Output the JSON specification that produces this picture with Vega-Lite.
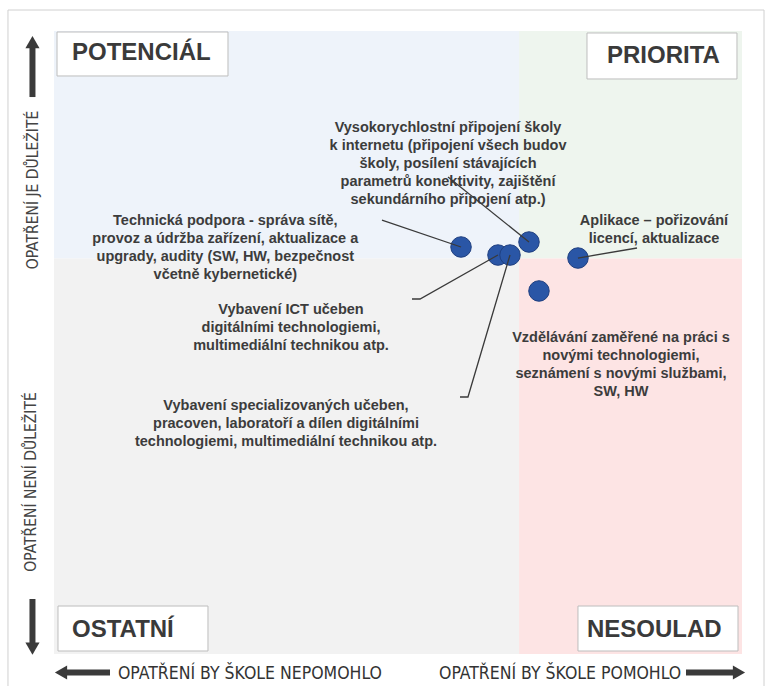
{
  "$schema": "https://vega.github.io/schema/vega-lite/v6.json",
  "width": 688,
  "height": 623,
  "padding": {"left": 54, "top": 31, "right": 36, "bottom": 32},
  "autosize": {"type": "none"},
  "background": "white",
  "config": {"view": {"stroke": null}},
  "datasets": {
    "ramec": [{"x": -6.69, "x2": 103.2, "y": 103.37, "y2": -7.38}],
    "kvadranty": [
      {"kvadrant": "POTENCIÁL", "x": 0, "x2": 67.6, "y": 63.5, "y2": 100},
      {"kvadrant": "PRIORITA", "x": 67.6, "x2": 100, "y": 63.5, "y2": 100},
      {"kvadrant": "OSTATNÍ", "x": 0, "x2": 67.6, "y": 0, "y2": 63.5},
      {"kvadrant": "NESOULAD", "x": 67.6, "x2": 100, "y": 0, "y2": 63.5}
    ],
    "stitky": [
      {"kvadrant": "POTENCIÁL", "x": 0.44, "x2": 25.29, "y": 92.78, "y2": 99.84, "tx": 2.62, "ty": 96.47},
      {"kvadrant": "PRIORITA", "x": 77.47, "x2": 99.27, "y": 92.3, "y2": 99.68, "tx": 80.38, "ty": 95.99},
      {"kvadrant": "OSTATNÍ", "x": 0.58, "x2": 22.38, "y": 0.48, "y2": 7.7, "tx": 2.62, "ty": 3.85},
      {"kvadrant": "NESOULAD", "x": 76.16, "x2": 99.42, "y": 0.48, "y2": 7.7, "tx": 77.47, "ty": 3.85}
    ],
    "body": [
      {"opatreni": "Technická podpora", "x": 59.16, "y": 65.33},
      {"opatreni": "Vybavení ICT učeben", "x": 64.53, "y": 64.04},
      {"opatreni": "Vybavení specializovaných učeben", "x": 66.28, "y": 64.04},
      {"opatreni": "Vysokorychlostní připojení", "x": 69.04, "y": 66.13},
      {"opatreni": "Aplikace", "x": 76.16, "y": 63.56},
      {"opatreni": "Vzdělávání", "x": 70.49, "y": 58.27}
    ],
    "popisky": [
      {"text": "Technická podpora - správa sítě,\nprovoz a údržba zařízení, aktualizace a\nupgrady, audity (SW, HW, bezpečnost\nvčetně kybernetické)", "x": 24.9, "y": 69.58},
      {"text": "Vysokorychlostní připojení školy\nk internetu (připojení všech budov\nškoly, posílení stávajících\nparametrů konektivity, zajištění\nsekundárního připojení atp.)", "x": 57.27, "y": 84.43},
      {"text": "Aplikace – pořizování\nlicencí, aktualizace", "x": 87.21, "y": 69.5},
      {"text": "Vybavení ICT učeben\ndigitálními technologiemi,\nmultimediální technikou atp.", "x": 34.45, "y": 55.22},
      {"text": "Vybavení specializovaných učeben,\npracoven, laboratoří a dílen digitálními\ntechnologiemi, multimediální technikou atp.", "x": 33.72, "y": 39.86},
      {"text": "Vzdělávání zaměřené na práci s\nnovými technologiemi,\nseznámení s novými službami,\nSW, HW", "x": 82.41, "y": 50.8}
    ],
    "vodici": [
      {"id": 1, "poradi": 1, "x": 47.67, "y": 69.66},
      {"id": 1, "poradi": 2, "x": 59.16, "y": 65.33},
      {"id": 2, "poradi": 1, "x": 57.27, "y": 76.56},
      {"id": 2, "poradi": 2, "x": 69.04, "y": 66.13},
      {"id": 3, "poradi": 1, "x": 84.74, "y": 65.17},
      {"id": 3, "poradi": 2, "x": 76.16, "y": 63.56},
      {"id": 4, "poradi": 1, "x": 52.03, "y": 56.98},
      {"id": 4, "poradi": 2, "x": 53.2, "y": 56.98},
      {"id": 4, "poradi": 3, "x": 64.53, "y": 64.04},
      {"id": 5, "poradi": 1, "x": 59.01, "y": 41.25},
      {"id": 5, "poradi": 2, "x": 60.17, "y": 41.25},
      {"id": 5, "poradi": 3, "x": 66.28, "y": 64.04}
    ],
    "svisle": [
      {"text": "OPATŘENÍ   JE  DŮLEŽITÉ", "x": -3.05, "y": 74.48},
      {"text": "OPATŘENÍ NENÍ DŮLEŽITÉ", "x": -3.34, "y": 27.61}
    ],
    "vodorovne": [
      {"text": "OPATŘENÍ BY ŠKOLE NEPOMOHLO", "x": 9.3, "y": -3.21},
      {"text": "OPATŘENÍ BY ŠKOLE POMOHLO", "x": 55.96, "y": -3.21}
    ],
    "sipky": [
      {"smer": "nahoru", "x": -3.13, "x2": -3.13, "y": 89.4, "y2": 97.6},
      {"smer": "dolu", "x": -3.13, "x2": -3.13, "y": 8.83, "y2": 1.2},
      {"smer": "vlevo", "x": 1.3, "x2": 8.14, "y": -2.97, "y2": -2.97},
      {"smer": "vpravo", "x": 91.86, "x2": 99.3, "y": -2.97, "y2": -2.97}
    ],
    "hroty": [
      {"smer": "nahoru", "x": -3.13, "y": 98.23},
      {"smer": "dolu", "x": -3.13, "y": 0.88},
      {"smer": "vlevo", "x": 1.02, "y": -2.97},
      {"smer": "vpravo", "x": 99.56, "y": -2.97}
    ]
  },
  "layer": [
    {
      "data": {"name": "ramec"},
      "mark": {"type": "rect", "fill": null, "stroke": "#d0d0d0", "strokeWidth": 1, "clip": false},
      "encoding": {
        "x": {"field": "x", "type": "quantitative", "scale": {"domain": [0, 100], "nice": false, "zero": false}, "axis": null},
        "x2": {"field": "x2"},
        "y": {"field": "y", "type": "quantitative", "scale": {"domain": [0, 100], "nice": false, "zero": false}, "axis": null},
        "y2": {"field": "y2"}
      }
    },
    {
      "data": {"name": "kvadranty"},
      "mark": {"type": "rect"},
      "encoding": {
        "x": {"field": "x", "type": "quantitative"},
        "x2": {"field": "x2"},
        "y": {"field": "y", "type": "quantitative"},
        "y2": {"field": "y2"},
        "color": {"field": "kvadrant", "type": "nominal", "scale": {"domain": ["POTENCIÁL", "PRIORITA", "OSTATNÍ", "NESOULAD"], "range": ["#eef3fa", "#eef5ee", "#f2f2f2", "#fde4e4"]}, "legend": null}
      }
    },
    {
      "data": {"name": "stitky"},
      "mark": {"type": "rect", "fill": "white", "stroke": "#bdbdbd", "strokeWidth": 1},
      "encoding": {
        "x": {"field": "x", "type": "quantitative"},
        "x2": {"field": "x2"},
        "y": {"field": "y", "type": "quantitative"},
        "y2": {"field": "y2"}
      }
    },
    {
      "data": {"name": "stitky"},
      "mark": {"type": "text", "align": "left", "baseline": "middle", "font": "Liberation Sans", "fontWeight": "bold", "fontSize": 24, "color": "#3a3a3a"},
      "encoding": {
        "x": {"field": "tx", "type": "quantitative"},
        "y": {"field": "ty", "type": "quantitative"},
        "text": {"field": "kvadrant"}
      }
    },
    {
      "data": {"name": "body"},
      "mark": {"type": "point", "shape": "circle", "filled": true, "size": 420, "fill": "#2a56a6", "stroke": "#1f3f80", "strokeWidth": 1, "opacity": 1},
      "encoding": {
        "x": {"field": "x", "type": "quantitative"},
        "y": {"field": "y", "type": "quantitative"}
      }
    },
    {
      "data": {"name": "vodici"},
      "mark": {"type": "line", "color": "#3a3a3a", "strokeWidth": 1.3},
      "encoding": {
        "x": {"field": "x", "type": "quantitative"},
        "y": {"field": "y", "type": "quantitative"},
        "detail": {"field": "id", "type": "nominal"},
        "order": {"field": "poradi", "type": "quantitative"}
      }
    },
    {
      "data": {"name": "popisky"},
      "mark": {"type": "text", "align": "center", "baseline": "middle", "lineBreak": "\n", "lineHeight": 18, "font": "Liberation Sans", "fontWeight": "bold", "fontSize": 14.5, "color": "#3c3c3c"},
      "encoding": {
        "x": {"field": "x", "type": "quantitative"},
        "y": {"field": "y", "type": "quantitative"},
        "text": {"field": "text"}
      }
    },
    {
      "data": {"name": "svisle"},
      "mark": {"type": "text", "align": "center", "baseline": "middle", "angle": 270, "font": "Liberation Sans Narrow, DejaVu Sans Condensed, Liberation Sans", "fontSize": 15.5, "color": "#444444"},
      "encoding": {
        "x": {"field": "x", "type": "quantitative"},
        "y": {"field": "y", "type": "quantitative"},
        "text": {"field": "text"}
      }
    },
    {
      "data": {"name": "vodorovne"},
      "mark": {"type": "text", "align": "left", "baseline": "middle", "font": "Liberation Sans Narrow, DejaVu Sans Condensed, Liberation Sans", "fontSize": 17.5, "color": "#333333"},
      "encoding": {
        "x": {"field": "x", "type": "quantitative"},
        "y": {"field": "y", "type": "quantitative"},
        "text": {"field": "text"}
      }
    },
    {
      "data": {"name": "sipky"},
      "mark": {"type": "rule", "color": "#3a3a3a", "strokeWidth": 6},
      "encoding": {
        "x": {"field": "x", "type": "quantitative"},
        "x2": {"field": "x2"},
        "y": {"field": "y", "type": "quantitative"},
        "y2": {"field": "y2"}
      }
    },
    {
      "data": {"name": "hroty"},
      "mark": {"type": "point", "filled": true, "size": 200, "color": "#3a3a3a", "opacity": 1},
      "encoding": {
        "x": {"field": "x", "type": "quantitative"},
        "y": {"field": "y", "type": "quantitative"},
        "shape": {"field": "smer", "type": "nominal", "scale": {"domain": ["nahoru", "dolu", "vlevo", "vpravo"], "range": ["triangle-up", "triangle-down", "triangle-left", "triangle-right"]}, "legend": null}
      }
    }
  ]
}
